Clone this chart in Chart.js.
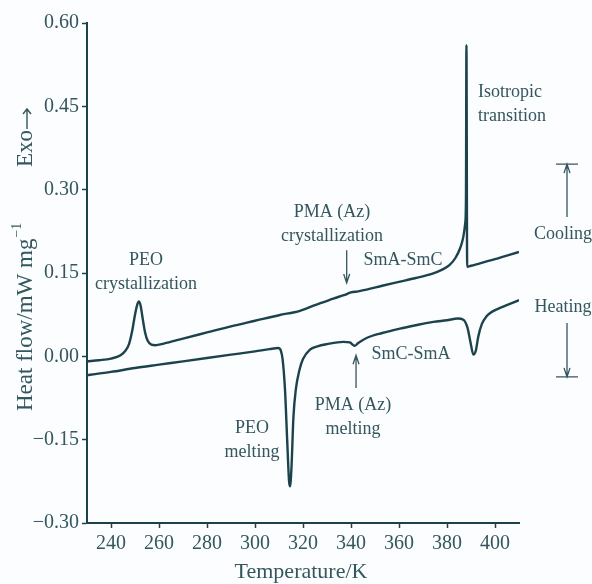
<!DOCTYPE html>
<html>
<head>
<meta charset="utf-8">
<script src="https://cdn.jsdelivr.net/npm/chart.js@4"></script>
<style>
  html, body { margin: 0; padding: 0; background: #fcfdff; }
  #wrap { width: 592px; height: 584px; }
</style>
</head>
<body>
<div id="wrap"><canvas id="myChart"></canvas></div>
<script>
// DSC traces (T in K, heat flow in mW/mg)
var coolingT = [230, 235, 240, 244, 246, 247.5, 248.8, 250, 251, 251.6, 252.3, 253.2, 254.2, 255.3, 256.8, 258.5,
  262, 270, 280, 290, 300, 310, 318.75, 325, 332.6, 337, 340, 343, 346.5, 353, 360, 367, 374, 378, 381,
  383.5, 385.5, 386.8, 387.6, 387.9, 388.1, 388.4, 390, 400, 410];
var coolingHF = [-0.009, -0.007, -0.004, 0.002, 0.010, 0.022, 0.045, 0.075, 0.094, 0.099, 0.092, 0.068, 0.043, 0.028, 0.021, 0.020,
  0.023, 0.032, 0.043, 0.054, 0.064, 0.074, 0.082, 0.092, 0.104, 0.110, 0.115, 0.117, 0.120, 0.127, 0.134, 0.141, 0.149, 0.156, 0.164,
  0.177, 0.195, 0.215, 0.240, 0.280, 0.560, 0.161, 0.163, 0.175, 0.188];

var heatingT = [230, 240, 250, 260, 270, 280, 290, 300, 306, 309.7, 310.8, 311.5, 312.5, 313.4, 314.2, 314.6, 315.2, 316,
  317, 318.5, 320, 322.9, 326, 330, 336.8, 339.5, 341.5, 343, 346.5, 353, 360.4, 367, 374.3, 380, 384.5, 386.8,
  388.5, 389.8, 391, 392, 393, 394.5, 396.5, 398, 401, 404.9, 410];
var heatingHF = [-0.034, -0.028, -0.021, -0.015, -0.009, -0.003, 0.003, 0.009, 0.013, 0.015, 0.010, -0.005, -0.060, -0.150, -0.225, -0.234, -0.200, -0.110,
  -0.060, -0.025, -0.005, 0.012, 0.018, 0.022, 0.026, 0.025, 0.019, 0.024, 0.033, 0.042, 0.050, 0.056, 0.062, 0.065, 0.068, 0.066,
  0.052, 0.025, 0.003, 0.010, 0.035, 0.058, 0.072, 0.078, 0.085, 0.092, 0.101];

var xTicks = [240, 260, 280, 300, 320, 340, 360, 380, 400];
var yTicks = [-0.30, -0.15, 0.00, 0.15, 0.30, 0.45, 0.60];

var lineColor = '#1c434c';
var textColor = '#34565e';
var serif = '"Liberation Serif", "DejaVu Serif", serif';

function pairs(xs, ys) {
  return xs.map(function (x, i) { return { x: x, y: ys[i] }; });
}

// labels and arrows placed in data units
var notes = [
  { lines: ['PEO', 'crystallization'], t: 254.6, v: 0.173, align: 'center' },
  { lines: ['PMA (Az)', 'crystallization'], t: 332.1, v: 0.260, align: 'center' },
  { lines: ['SmA-SmC'], t: 361.7, v: 0.173, align: 'center' },
  { lines: ['Isotropic', 'transition'], t: 392.9, v: 0.476, align: 'left' },
  { lines: ['Cooling'], t: 428.3, v: 0.220, align: 'center' },
  { lines: ['Heating'], t: 428.3, v: 0.089, align: 'center' },
  { lines: ['SmC-SmA'], t: 365, v: 0.003, align: 'center' },
  { lines: ['PMA (Az)', 'melting'], t: 340.8, v: -0.088, align: 'center' },
  { lines: ['PEO', 'melting'], t: 298.75, v: -0.129, align: 'center' }
];
var arrows = [
  { t: 338.2, from: 0.191, to: 0.132, bar: false },
  { t: 342.1, from: -0.057, to: 0.002, bar: false },
  { t: 430, from: 0.251, to: 0.346, bar: true },
  { t: 430, from: 0.060, to: -0.037, bar: true }
];

var decor = {
  id: 'decor',
  afterDraw: function (chart) {
    var c = chart.ctx, xs = chart.scales.x, ys = chart.scales.y;
    c.save();
    c.fillStyle = textColor;
    c.textBaseline = 'middle';
    c.font = '18px ' + serif;
    notes.forEach(function (n) {
      var px = xs.getPixelForValue(n.t), py = ys.getPixelForValue(n.v);
      c.textAlign = n.align;
      n.lines.forEach(function (s, i) { c.fillText(s, px, py + i * 24); });
    });

    c.strokeStyle = textColor;
    c.lineWidth = 1.3;
    arrows.forEach(function (a) {
      var px = xs.getPixelForValue(a.t);
      var y0 = ys.getPixelForValue(a.from), y1 = ys.getPixelForValue(a.to);
      var dir = y1 > y0 ? 1 : -1;
      c.beginPath();
      c.moveTo(px, y0); c.lineTo(px, y1);
      c.moveTo(px - 3, y1 - dir * 9); c.lineTo(px, y1); c.lineTo(px + 3, y1 - dir * 9);
      if (a.bar) { c.moveTo(px - 11, y1); c.lineTo(px + 11, y1); }
      c.stroke();
    });

    // axis titles
    c.font = '22px ' + serif;
    c.textAlign = 'center';
    c.textBaseline = 'middle';
    c.fillText('Temperature/K', 301, 572);

    c.translate(26, 411);
    c.rotate(-Math.PI / 2);
    c.textAlign = 'left';
    c.font = '23px ' + serif;
    var main = 'Heat flow/mW mg';
    c.fillText(main, 0, 0);
    var w = c.measureText(main).width;
    c.font = '14px ' + serif;
    c.fillText('\u22121', w + 1, -9);
    c.font = '23px ' + serif;
    c.fillText('Exo', 244, 0);
    var ew = c.measureText('Exo').width;
    // long arrow after "Exo"
    c.strokeStyle = textColor;
    c.lineWidth = 1.4;
    c.beginPath();
    c.moveTo(244 + ew + 1, 1); c.lineTo(244 + ew + 21, 1);
    c.moveTo(244 + ew + 16, -3); c.lineTo(244 + ew + 21, 1); c.lineTo(244 + ew + 16, 5);
    c.stroke();
    c.restore();
  }
};

var ctx = document.getElementById('myChart').getContext('2d');
var myChart = new Chart(ctx, {
  type: 'scatter',
  data: {
    datasets: [{
      label: 'Cooling',
      data: pairs(coolingT, coolingHF),
      showLine: true,
      borderColor: lineColor,
      borderWidth: 2.4,
      pointRadius: 0,
      cubicInterpolationMode: 'monotone'
    }, {
      label: 'Heating',
      data: pairs(heatingT, heatingHF),
      showLine: true,
      borderColor: lineColor,
      borderWidth: 2.4,
      pointRadius: 0,
      cubicInterpolationMode: 'monotone'
    }]
  },
  options: {
    responsive: true,
    maintainAspectRatio: false,
    animation: false,
    layout: { padding: { top: 23, right: 73, left: 0, bottom: 0 } },
    plugins: {
      legend: { display: false },
      tooltip: { enabled: false }
    },
    scales: {
      x: {
        type: 'linear',
        min: 230,
        max: 410,
        afterFit: function (s) { s.height = 61; },
        afterBuildTicks: function (s) { s.ticks = xTicks.map(function (v) { return { value: v }; }); },
        border: { display: true, color: lineColor, width: 2 },
        grid: { drawOnChartArea: false, drawTicks: true, tickLength: 5, tickColor: lineColor, tickWidth: 1.5 },
        ticks: {
          autoSkip: false,
          maxRotation: 0,
          padding: 4,
          color: textColor,
          font: { family: serif, size: 20 },
          callback: function (v) { return String(v); }
        }
      },
      y: {
        type: 'linear',
        min: -0.30,
        max: 0.60,
        afterFit: function (s) { s.width = 87; },
        afterBuildTicks: function (s) { s.ticks = yTicks.map(function (v) { return { value: v }; }); },
        border: { display: true, color: lineColor, width: 2 },
        grid: { drawOnChartArea: false, drawTicks: true, tickLength: 5, tickColor: lineColor, tickWidth: 1.5 },
        ticks: {
          autoSkip: false,
          padding: 3,
          color: textColor,
          font: { family: serif, size: 20 },
          callback: function (v) { return (v < 0 ? '\u2212' : '') + Math.abs(v).toFixed(2); }
        }
      }
    }
  },
  plugins: [decor]
});
</script>
</body>
</html>
